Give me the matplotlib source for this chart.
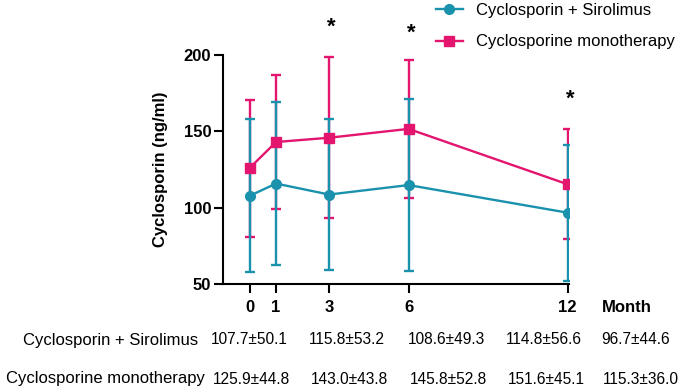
import numpy as np
import matplotlib
matplotlib.use("Agg")
import matplotlib.pyplot as plt
from matplotlib.lines import Line2D

plt.rcParams['font.family'] = ['Liberation Sans', 'DejaVu Sans']

months = [0, 1, 3, 6, 12]
combo_mean = [107.7, 115.8, 108.6, 114.8, 96.7]
combo_sd = [50.1, 53.2, 49.3, 56.6, 44.6]
mono_mean = [125.9, 143.0, 145.8, 151.6, 115.3]
mono_sd = [44.8, 43.8, 52.8, 45.1, 36.0]
combo_name = "Cyclosporin + Sirolimus"
mono_name = "Cyclosporine monotherapy"
star_months = [3, 6, 12]
star_y = [218, 214, 171]

teal = "#1b92ad"
pink = "#e3156e"

W, H = 685, 390
fig = plt.figure(figsize=(W / 100, H / 100), dpi=100)
ax = fig.add_axes([223 / W, 106 / H, 346 / W, 229 / H])

# pink bars under the teal series, pink markers on top
ax.errorbar(months, mono_mean, yerr=mono_sd, fmt='none', ecolor=pink,
            elinewidth=1.7, capsize=3.8, capthick=1.7, zorder=2)
ax.errorbar(months, combo_mean, yerr=combo_sd, color=teal, marker='o', ms=7,
            lw=1.7, elinewidth=1.7, capsize=3.8, capthick=1.7, zorder=3)
ax.plot(months, mono_mean, color=pink, marker='s', ms=6.5, lw=1.7, zorder=4)

for m, y in zip(star_months, star_y):
    ax.text(m + 0.1, y, "*", ha='center', va='center', fontsize=16,
            fontweight='bold', clip_on=False)

ax.set_xlim(-1, 12.05)
ax.set_ylim(50, 200)
ax.set_xticks(months)
ax.set_yticks([50, 100, 150, 200])
for s in ['top', 'right']:
    ax.spines[s].set_visible(False)
for s in ['left', 'bottom']:
    ax.spines[s].set_linewidth(1.5)
ax.tick_params(length=6.5, width=1.5, labelsize=12)
ax.tick_params(axis='x', pad=5)
ax.tick_params(axis='y', pad=2)
for lab in ax.get_xticklabels() + ax.get_yticklabels():
    lab.set_fontweight('bold')

ax.set_ylabel("Cyclosporin (ng/ml)", fontsize=12, fontweight='bold')
ax.yaxis.set_label_coords(-0.158, 0.5)

fig.text(602 / W, 1 - 307 / H, "Month", fontsize=12, fontweight='bold',
         ha='left', va='center')

handles = [Line2D([], [], color=teal, marker='o', ms=7, lw=1.7),
           Line2D([], [], color=pink, marker='s', ms=6.5, lw=1.7)]
ax.legend(handles, [combo_name, mono_name], loc='upper left',
          bbox_to_anchor=(436 / W, 0.993), bbox_transform=fig.transFigure,
          frameon=False, fontsize=12, borderaxespad=0, borderpad=0,
          handlelength=1.6, handletextpad=0.8, labelspacing=1.0)

col_x = [211, 309, 408, 506, 601]
fig.text(198 / W, 1 - 340 / H, combo_name, fontsize=12, ha='right', va='center')
fig.text(205 / W, 1 - 379 / H, mono_name, fontsize=12, ha='right', va='center')
for i in range(len(months)):
    fig.text(col_x[i] / W, 1 - 340 / H, f"{combo_mean[i]:.1f}±{combo_sd[i]:.1f}",
             fontsize=11.2, ha='left', va='center')
    fig.text((col_x[i] + 2) / W, 1 - 379 / H, f"{mono_mean[i]:.1f}±{mono_sd[i]:.1f}",
             fontsize=11.2, ha='left', va='center')

fig.savefig("out.png", dpi=100)
